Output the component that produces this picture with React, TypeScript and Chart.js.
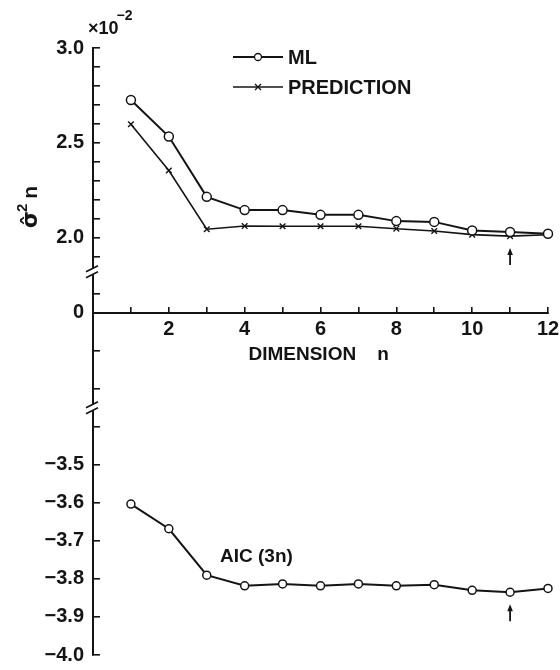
import React, { useEffect, useRef } from 'react';
import { Chart, registerables } from 'chart.js';

Chart.register(...registerables);

// ---- data ----
const DIMENSIONS = [1, 2, 3, 4, 5, 6, 7, 8, 9, 10, 11, 12];
const ML_VALUES = [2.726, 2.533, 2.215, 2.145, 2.145, 2.12, 2.12, 2.087, 2.083, 2.038, 2.03, 2.02];
const PREDICTION_VALUES = [2.598, 2.354, 2.044, 2.061, 2.06, 2.06, 2.06, 2.047, 2.035, 2.016, 2.008, 2.015];
const AIC_VALUES = [-3.603, -3.668, -3.79, -3.818, -3.813, -3.818, -3.813, -3.818, -3.815, -3.83, -3.835, -3.825];
const SERIES_LABELS = ['ML', 'PREDICTION'];
const AIC_LABEL = 'AIC (3n)';
const X_TITLE = ['DIMENSION', 'n'];
const SELECTED_DIMENSION = 11;

// ---- ticks ----
const X_TICKS = [1, 2, 3, 4, 5, 6, 7, 8, 9, 10, 11, 12];
const X_LABELED = [2, 4, 6, 8, 10, 12];
const TOP_TICKS = [1.9, 2.0, 2.1, 2.2, 2.3, 2.4, 2.5, 2.6, 2.7, 2.8, 2.9, 3.0];
const TOP_LABELED = [2.0, 2.5, 3.0];
const MID_TICKS = [0.1, 0, -0.2, -0.4];
const MID_LABELED = [0];
const BOTTOM_TICKS = [-3.4, -3.5, -3.6, -3.7, -3.8, -3.9, -4.0];
const BOTTOM_LABELED = [-3.5, -3.6, -3.7, -3.8, -3.9, -4.0];

const INK = '#141414';
const FONT = 'Liberation Sans';

const has = (list: number[], v: number) => list.some((l) => Math.abs(l - v) < 1e-9);
const fmt = (v: number) => {
  if (Math.abs(v) < 1e-9) return '0';
  const s = Math.abs(v).toFixed(1);
  return v < 0 ? '\u2212' + s : s;
};

const pts = (vals: number[]) => DIMENSIONS.map((d, i) => ({ x: d, y: vals[i] }));

const clearPadding = (s: any) => {
  s.paddingTop = 0;
  s.paddingBottom = 0;
  s.paddingLeft = 0;
  s.paddingRight = 0;
};

function yAxis(ticks: number[], labeled: number[], min: number, max: number, weight: number, stackWeight: number) {
  return {
    type: 'linear',
    axis: 'y',
    position: 'left',
    stack: 'left',
    stackWeight,
    weight,
    min,
    max,
    afterBuildTicks: (s: any) => {
      s.ticks = ticks.map((v) => ({ value: v }));
    },
    afterFit: (s: any) => {
      s.width = 93;
      clearPadding(s);
    },
    grid: { display: true, drawOnChartArea: false, drawTicks: true, tickLength: -7, color: INK, lineWidth: 1.6 },
    border: { display: true, color: INK, width: 2 },
    ticks: {
      autoSkip: false,
      padding: 16,
      color: INK,
      font: { family: FONT, size: 20, weight: 'bold' },
      callback: (v: any) => (has(labeled, Number(v)) ? fmt(Number(v)) : ''),
    },
  };
}

const decorations = {
  id: 'decorations',
  afterDraw(chart: any) {
    const ctx: CanvasRenderingContext2D = chart.ctx;
    const { x, yTop, yMid, yBot } = chart.scales;
    const area = chart.chartArea;
    const ax = area.left;
    ctx.save();

    // axis breaks
    [yTop.bottom, yMid.bottom].forEach((by: number) => {
      ctx.fillStyle = '#fff';
      ctx.fillRect(ax - 3, by - 3, 6, 6);
      ctx.strokeStyle = INK;
      ctx.lineWidth = 1.6;
      ctx.beginPath();
      ctx.moveTo(ax - 7, by + 0);
      ctx.lineTo(ax + 5, by - 6);
      ctx.moveTo(ax - 7, by + 6);
      ctx.lineTo(ax + 5, by + 0);
      ctx.stroke();
    });

    ctx.fillStyle = INK;
    ctx.strokeStyle = INK;

    // x10^-2
    ctx.textBaseline = 'alphabetic';
    ctx.textAlign = 'left';
    ctx.font = `bold 18px "${FONT}"`;
    ctx.fillText('\u00d710', ax - 5, yTop.top - 14);
    const w10 = ctx.measureText('\u00d710').width;
    ctx.font = `bold 14px "${FONT}"`;
    ctx.fillText('\u22122', ax - 7 + w10, yTop.top - 28);

    // y title  sigma-hat ^2 n (rotated)
    ctx.save();
    ctx.translate(37, yTop.getPixelForValue(2.05));
    ctx.rotate(-Math.PI / 2);
    ctx.font = `bold 22px "DejaVu Sans"`;
    ctx.fillText('\u03c3\u0302', 0, 0);
    let cx = ctx.measureText('\u03c3\u0302').width;
    ctx.font = `bold 15px "${FONT}"`;
    ctx.fillText('2', cx - 1, -10);
    cx += ctx.measureText('2').width + 4;
    ctx.font = `bold 21px "${FONT}"`;
    ctx.fillText('n', cx, 0);
    ctx.restore();

    // legend
    const ds = chart.data.datasets;
    const lx0 = ax + 140;
    const lx1 = ax + 190;
    const rows = [area.top + 9, area.top + 39];
    [0, 1].forEach((i) => {
      const y = rows[i];
      const d = ds[i];
      ctx.lineWidth = d.borderWidth;
      ctx.beginPath();
      ctx.moveTo(lx0, y);
      ctx.lineTo(lx1, y);
      ctx.stroke();
      const mx = (lx0 + lx1) / 2;
      ctx.lineWidth = 1.3;
      if (d.pointStyle === 'circle') {
        ctx.beginPath();
        ctx.arc(mx, y, 3.5, 0, Math.PI * 2);
        ctx.fillStyle = '#fff';
        ctx.fill();
        ctx.stroke();
        ctx.fillStyle = INK;
      } else {
        const r = 3;
        ctx.beginPath();
        ctx.moveTo(mx - r, y - r);
        ctx.lineTo(mx + r, y + r);
        ctx.moveTo(mx + r, y - r);
        ctx.lineTo(mx - r, y + r);
        ctx.stroke();
      }
      ctx.font = `bold 20px "${FONT}"`;
      ctx.textBaseline = 'middle';
      ctx.fillText(d.label, lx1 + 5, y + 1);
    });

    // x axis title
    ctx.textAlign = 'left';
    ctx.textBaseline = 'alphabetic';
    ctx.font = `bold 19px "${FONT}"`;
    const titleY = yMid.getPixelForValue(0) + 47;
    const titleX = x.getPixelForValue(4.1);
    ctx.fillText(X_TITLE[0], titleX, titleY);
    ctx.fillText(X_TITLE[1], titleX + ctx.measureText(X_TITLE[0]).width + 21, titleY);

    // AIC label
    ctx.fillText(AIC_LABEL, x.getPixelForValue(3.35), yBot.getPixelForValue(-3.755));

    // arrows at the selected dimension
    const idx = DIMENSIONS.indexOf(SELECTED_DIMENSION);
    const arrows = [
      { px: x.getPixelForValue(SELECTED_DIMENSION), py: yTop.getPixelForValue(PREDICTION_VALUES[idx]) },
      { px: x.getPixelForValue(SELECTED_DIMENSION), py: yBot.getPixelForValue(AIC_VALUES[idx]) },
    ];
    arrows.forEach(({ px, py }) => {
      const top = py + 12;
      ctx.lineWidth = 1.8;
      ctx.beginPath();
      ctx.moveTo(px, top + 4);
      ctx.lineTo(px, top + 17);
      ctx.stroke();
      ctx.beginPath();
      ctx.moveTo(px, top);
      ctx.lineTo(px - 2.8, top + 7);
      ctx.lineTo(px + 2.8, top + 7);
      ctx.closePath();
      ctx.fill();
    });

    ctx.restore();
  },
};

export default function App() {
  const ref = useRef<HTMLCanvasElement>(null);

  useEffect(() => {
    document.body.style.margin = '0';
    const canvas = ref.current;
    if (!canvas) return;
    const chart = new Chart(canvas, {
      type: 'line',
      data: {
        datasets: [
          {
            label: SERIES_LABELS[0],
            data: pts(ML_VALUES),
            yAxisID: 'yTop',
            borderColor: INK,
            borderWidth: 2,
            pointStyle: 'circle',
            pointRadius: 4.5,
            pointBorderWidth: 1.5,
            pointBackgroundColor: '#fff',
            pointBorderColor: INK,
            tension: 0,
            clip: false,
          },
          {
            label: SERIES_LABELS[1],
            data: pts(PREDICTION_VALUES),
            yAxisID: 'yTop',
            borderColor: INK,
            borderWidth: 1.6,
            pointStyle: 'crossRot',
            pointRadius: 4,
            pointBorderWidth: 1.4,
            pointBorderColor: INK,
            tension: 0,
            clip: false,
          },
          {
            label: AIC_LABEL,
            data: pts(AIC_VALUES),
            yAxisID: 'yBot',
            borderColor: INK,
            borderWidth: 2,
            pointStyle: 'circle',
            pointRadius: 4,
            pointBorderWidth: 1.5,
            pointBackgroundColor: '#fff',
            pointBorderColor: INK,
            tension: 0,
            clip: false,
          },
        ],
      } as any,
      options: {
        responsive: false,
        devicePixelRatio: 1,
        animation: false,
        events: [],
        layout: { padding: { left: 0, top: 48, right: 12, bottom: 15 } },
        plugins: { legend: { display: false }, tooltip: { enabled: false } },
        scales: {
          x: {
            type: 'linear',
            axis: 'x',
            position: { yMid: 0 },
            min: 0,
            max: 12,
            afterBuildTicks: (s: any) => {
              s.ticks = X_TICKS.map((v) => ({ value: v }));
            },
            afterFit: (s: any) => {
              s.height = 0;
              clearPadding(s);
            },
            grid: { display: true, drawOnChartArea: false, drawTicks: true, tickLength: -7, color: INK, lineWidth: 1.6 },
            border: { display: true, color: INK, width: 2 },
            ticks: {
              autoSkip: false,
              maxRotation: 0,
              padding: 12,
              color: INK,
              font: { family: FONT, size: 20, weight: 'bold' },
              callback: (v: any) => (has(X_LABELED, Number(v)) ? String(v) : ''),
            },
          },
          yTop: yAxis(TOP_TICKS, TOP_LABELED, 1.82, 3.0, 3, 223.6),
          yMid: yAxis(MID_TICKS, MID_LABELED, -0.5, 0.215, 2, 136),
          yBot: yAxis(BOTTOM_TICKS, BOTTOM_LABELED, -4.0, -3.35, 1, 247),
        } as any,
      },
      plugins: [decorations],
    } as any);
    return () => chart.destroy();
  }, []);

  return (
    <div style={{ width: 560, height: 670, background: '#fff' }}>
      <canvas ref={ref} width={560} height={670} style={{ display: 'block', width: 560, height: 670 }} />
    </div>
  );
}
